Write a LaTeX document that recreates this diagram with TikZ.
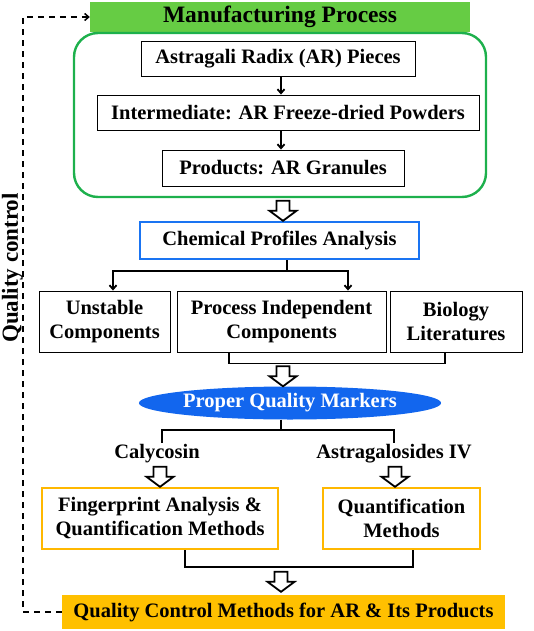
\documentclass[tikz,border=0pt]{standalone}
\usepackage{fontspec}
\setmainfont{Liberation Serif}
\usetikzlibrary{positioning, calc, arrows.meta, shapes.geometric}
\definecolor{mfggreen}{HTML}{66CC44}
\definecolor{framegreen}{HTML}{1DB04C}
\definecolor{chemblue}{HTML}{1A74F2}
\definecolor{markerblue}{HTML}{1266EE}
\definecolor{qcorange}{HTML}{FFC000}
\definecolor{boxorange}{HTML}{FFB800}
\newcommand{\BoldSize}[1]{\bfseries\fontsize{#1}{24}\selectfont}

\tikzset{
  stepbox/.style={draw, line width=0.9pt, inner sep=0pt, align=center, font=\BoldSize{20.5}},
  bluebox/.style={stepbox, draw=chemblue, line width=2.4pt},
  orangebox/.style={stepbox, draw=boxorange, line width=2.4pt},
  link/.style={line width=1.8pt},
  arr/.style={link, -{Straight Barb[length=4pt, width=7pt]}},
  hollow/.pic={\draw[line width=1.8pt, fill=white] (-6.5,20) -- (6.5,20) -- (6.5,10) -- (13.5,10) -- (0,0) -- (-13.5,10) -- (-6.5,10) -- cycle;}
}

\begin{document}
\begin{tikzpicture}[x=1pt, y=1pt]
        \useasboundingbox (0,0) rectangle (533,-631);

        % Manufacturing process
        \node[fill=mfggreen, minimum width=380, minimum height=30, inner sep=0pt, font=\BoldSize{23.5}] (mfg) at (280,-17) {Manufacturing Process};
        \node[draw=framegreen, line width=2.4pt, rounded corners=24pt, minimum width=412, minimum height=164] (frame) at (280,-115) {};
        \node[stepbox, minimum width=274, minimum height=35] (pieces) at (278,-58.5) {Astragali Radix (AR) Pieces};
        \node[stepbox, minimum width=382, minimum height=35] (powders) at (288,-112.5) {Intermediate: AR Freeze-dried Powders};
        \node[stepbox, minimum width=242, minimum height=36] (granules) at (283,-168) {Products: AR Granules};
        \draw[arr] ([xshift=3pt]pieces.south) -- ([xshift=3pt]pieces.south |- powders.north);
        \draw[arr] ([xshift=-7pt]powders.south) -- ([xshift=-7pt]powders.south |- granules.north);

        % Chemical profiles
        \node[bluebox, minimum width=279, minimum height=37] (chem) at (279.5,-240.5) {Chemical Profiles Analysis};
        \pic at ([xshift=3.5pt]chem.north) {hollow};

        \node[stepbox, minimum width=131, minimum height=61] (unstable) at (104.5,-321.5) {Unstable\\Components};
        \node[stepbox, minimum width=209, minimum height=61] (independent) at (281.5,-321.5) {Process Independent\\Components};
        \node[stepbox, minimum width=132, minimum height=61] (biology) at (456,-321.5) {Biology\\Literatures};
        \draw[link] ([xshift=7.5pt]chem.south) -- ++(0,-11) coordinate (split);
        \draw[arr] (split) -| ([xshift=8.5pt]unstable.north);
        \draw[arr] (split) -| ([xshift=66.5pt]independent.north);
        \draw[link] ([xshift=-52.5pt]independent.south) -- ++(0,-11) coordinate (join) -| ([xshift=-11pt]biology.south);

        % Quality markers
        \node[ellipse, fill=markerblue, minimum width=276, minimum height=33, inner sep=0pt, text=white, font=\BoldSize{20.5}] (markers) at (290,-403) {Proper Quality Markers};
        \pic at ([xshift=-7pt]markers.north) {hollow};

        \node[font=\BoldSize{20.5}, inner sep=1pt] (calycosin) at (157,-454) {Calycosin};
        \node[font=\BoldSize{20.5}, inner sep=1pt] (astragaloside) at (394,-454) {Astragalosides IV};
        \draw[link] ([xshift=-9pt]markers.south) -- ++(0,-10) coordinate (fork);
        \draw[link] (fork) -| ([xshift=5pt]calycosin.north);
        \draw[link] (fork) -| (astragaloside.north);

        % Methods
        \node[orangebox, minimum width=236, minimum height=61] (fingerprint) at (160,-518.5) {Fingerprint Analysis \&\\Quantification Methods};
        \node[orangebox, minimum width=157, minimum height=61] (quantification) at (401.5,-518.5) {Quantification\\Methods};
        \pic at (fingerprint.north) {hollow};
        \pic at ([xshift=-6.5pt]quantification.north) {hollow};
        \draw[link] ([xshift=25pt]fingerprint.south) -- ++(0,-17) coordinate (merge) -| ([xshift=11.5pt]quantification.south);

        % Quality control methods
        \node[fill=qcorange, minimum width=443, minimum height=34, inner sep=0pt, font=\BoldSize{20.5}] (qcm) at (283.5,-612) {Quality Control Methods for AR \& Its Products};
        \pic at ([xshift=-2.5pt,yshift=3pt]qcm.north) {hollow};

        % Feedback loop
        \draw[line width=1.5pt, dash pattern=on 6pt off 5pt, -{Straight Barb[length=4pt, width=7pt]}] (qcm.west) -- ++(-39,0) coordinate (corner) |- (mfg.west);
        \node[rotate=90, inner sep=0pt, font=\BoldSize{23}] (qclabel) at (12.5,-268) {Quality control};

    \end{tikzpicture}
\end{document}
